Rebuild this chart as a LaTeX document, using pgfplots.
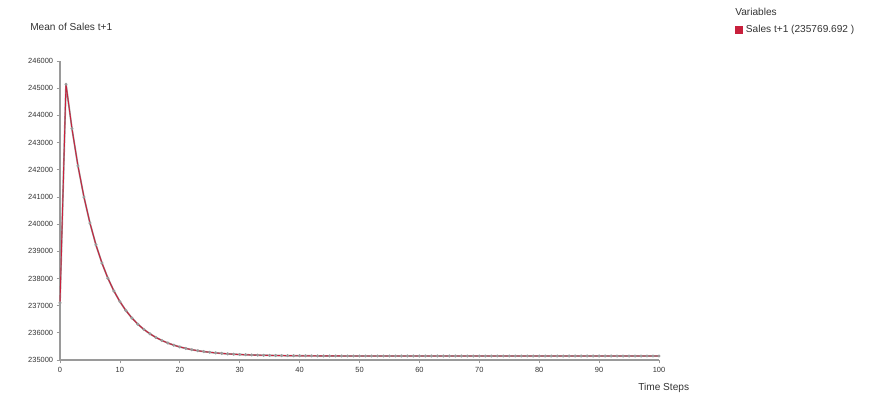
\documentclass[border=0pt]{standalone}
\usepackage{fontspec}
\setmainfont{Liberation Sans}
\usepackage{pgfplots}
\usepackage{pgfplotstable}
\pgfplotsset{compat=1.18}

\definecolor{salesred}{HTML}{C8203C}
\definecolor{axisgray}{HTML}{9A9A9A}
\definecolor{labelgray}{HTML}{333333}

% mean of Sales t+1 per time step
\pgfplotstableread{
t sales
0 237100
1 245146
2 243509
3 242140
4 240995
5 240038
6 239237
7 238567
8 238007
9 237539
10 237147
11 236820
12 236546
13 236317
14 236125
15 235965
16 235831
17 235719
18 235625
19 235546
20 235481
21 235426
22 235380
23 235342
24 235310
25 235283
26 235261
27 235242
28 235226
29 235213
30 235202
31 235193
32 235185
33 235179
34 235173
35 235169
36 235165
37 235162
38 235159
39 235157
40 235155
41 235154
42 235152
43 235151
44 235150
45 235149
46 235149
47 235148
48 235148
49 235148
50 235147
51 235147
52 235147
53 235147
54 235147
55 235147
56 235147
57 235147
58 235147
59 235147
60 235147
61 235146
62 235146
63 235146
64 235146
65 235146
66 235146
67 235146
68 235146
69 235146
70 235146
71 235146
72 235146
73 235146
74 235146
75 235146
76 235146
77 235146
78 235146
79 235146
80 235146
81 235146
82 235146
83 235146
84 235146
85 235146
86 235146
87 235146
88 235146
89 235146
90 235146
91 235146
92 235146
93 235146
94 235146
95 235146
96 235146
97 235146
98 235146
99 235146
100 235146
}\salesdata

\begin{document}
\begin{tikzpicture}[x=0.75pt,y=0.75pt]
  % page = 874 x 420 px
  \path[use as bounding box] (0,0) rectangle (874,420);

  \begin{axis}[
    at={(45pt,45pt)}, anchor=south west,
    scale only axis,
    width=449.25pt, height=224.25pt,
    xmin=0, xmax=100,
    ymin=235000, ymax=246000,
    axis lines=left,
    axis line style={axisgray, line width=0.9pt, -},
    xtick={0,10,...,100},
    ytick={235000,236000,...,246000},
    scaled y ticks=false,
    yticklabel={\pgfmathprintnumber[fixed,1000 sep={}]{\tick}},
    /pgf/number format/assume math mode=true,
    tick align=outside,
    major tick length=2.6pt,
    tick style={axisgray, line width=0.6pt},
    ticklabel style={font=\fontsize{5.6}{6.5}\selectfont, text=labelgray},
    xticklabel style={yshift=1pt},
    yticklabel style={xshift=1pt},
    clip=false,
    legend style={at={(rel axis cs:1.127,1.105)}, anchor=west, draw=none, fill=none,
      inner sep=0pt, font=\fontsize{7.6}{9}\selectfont, text=labelgray,
      legend cell align=left},
    legend image code/.code={\fill[salesred] (0pt,-2.6pt) rectangle (5.2pt,2.6pt);},
  ]
    % gray underlay with step dots
    \addplot[axisgray, line width=1.3pt, mark=*, mark size=0.35pt, forget plot]
      table[x=t, y=sales] {\salesdata};
    \addplot[salesred, line width=0.7pt] table[x=t, y=sales] {\salesdata};
    \addlegendentry{Sales t+1 (235769.692 )}
  \end{axis}

  \node[anchor=west, inner sep=0pt, font=\fontsize{7.6}{9}\selectfont, text=labelgray]
    at (30,393) {Mean of Sales t+1};
  \node[anchor=west, inner sep=0pt, font=\fontsize{7.6}{9}\selectfont, text=labelgray]
    at (735,408) {Variables};
  \node[anchor=west, inner sep=0pt, font=\fontsize{7.6}{9}\selectfont, text=labelgray]
    at (638,32) {Time Steps};
\end{tikzpicture}
\end{document}
